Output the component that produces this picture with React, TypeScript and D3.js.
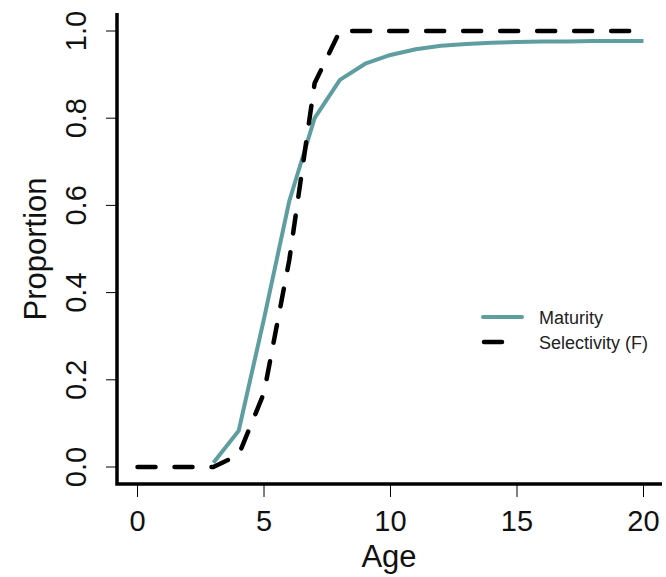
import React from "react";
import * as d3 from "d3";

const ages = d3.range(0, 21);
const maturity: (number | null)[] = [null, null, null, 0.01, 0.083, 0.34, 0.61, 0.8, 0.888, 0.925, 0.945, 0.958, 0.966, 0.97, 0.973, 0.975, 0.976, 0.976, 0.977, 0.977, 0.977];
const selectivity: number[] = [0, 0, 0, 0, 0.028, 0.17, 0.475, 0.88, 1, 1, 1, 1, 1, 1, 1, 1, 1, 1, 1, 1, 1];
const xTicks = [0, 5, 10, 15, 20];
const yTicks = [0, 0.2, 0.4, 0.6, 0.8, 1.0];
const legendLabels = ["Maturity", "Selectivity (F)"];

const W = 666, H = 577;
const TEAL = "#5F9EA0";
const FONT = "'Liberation Sans', Arial, sans-serif";

export default function App() {
  const x = d3.scaleLinear().domain([0, 20]).range([137.5, 643.5]);
  const y = d3.scaleLinear().domain([0, 1]).range([467, 31]);
  const mLine = d3.line<number>()
    .defined((_, i) => maturity[i] !== null)
    .x((a) => x(a))
    .y((_, i) => y(maturity[i] as number));
  const sLine = d3.line<number>()
    .x((a) => x(a))
    .y((_, i) => y(selectivity[i]));
  const axisLeft = 117;
  const axisBottom = 484;
  return (
    <svg width={W} height={H} style={{ position: "absolute", left: 0, top: 0 }}>
      <rect width={W} height={H} fill="#fff" />
      {/* axes */}
      <path d={`M${axisLeft},13 L${axisLeft},${axisBottom} L662,${axisBottom}`} fill="none" stroke="#000" strokeWidth={3.5} strokeLinejoin="miter" />
      {yTicks.map((t) => (
        <g key={"y" + t}>
          <line x1={axisLeft - 11} x2={axisLeft} y1={y(t)} y2={y(t)} stroke="#000" strokeWidth={1} />
          <text transform={`translate(${axisLeft - 31},${y(t)}) rotate(-90)`} textAnchor="middle" fontFamily={FONT} fontSize={29} fill="#111">{t.toFixed(1)}</text>
        </g>
      ))}
      {xTicks.map((t) => (
        <g key={"x" + t}>
          <line x1={x(t)} x2={x(t)} y1={axisBottom} y2={axisBottom + 13} stroke="#000" strokeWidth={1} />
          <text x={x(t)} y={531} textAnchor="middle" fontFamily={FONT} fontSize={29} fill="#111">{t}</text>
        </g>
      ))}
      <text x={389} y={567} textAnchor="middle" fontFamily={FONT} fontSize={31} fill="#111">Age</text>
      <text transform={`translate(46,249) rotate(-90)`} textAnchor="middle" fontFamily={FONT} fontSize={31} fill="#111">Proportion</text>
      {/* curves */}
      <path d={mLine(ages) || ""} fill="none" stroke={TEAL} strokeWidth={4} strokeLinejoin="round" />
      <path d={sLine(ages) || ""} fill="none" stroke="#000" strokeWidth={4.5} strokeDasharray="18 19" strokeLinecap="round" strokeLinejoin="round" />
      {/* legend */}
      <line x1={483} x2={522} y1={317} y2={317} stroke={TEAL} strokeWidth={4} strokeLinecap="round" />
      <line x1={484} x2={502} y1={342} y2={342} stroke="#000" strokeWidth={4.5} strokeLinecap="round" />
      <text x={539} y={324} fontFamily={FONT} fontSize={18} fill="#222">{legendLabels[0]}</text>
      <text x={539} y={349} fontFamily={FONT} fontSize={18} fill="#222">{legendLabels[1]}</text>
    </svg>
  );
}
